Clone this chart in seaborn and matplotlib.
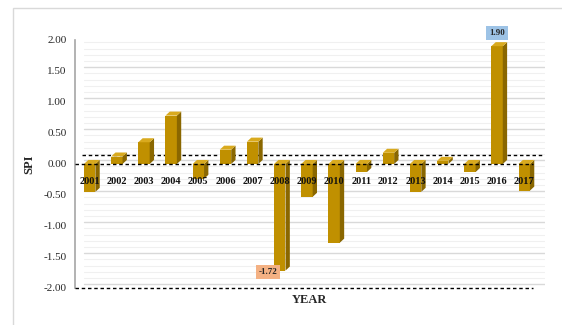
import matplotlib
matplotlib.use("Agg")
import matplotlib.pyplot as plt
import seaborn as sns
import pandas as pd
import numpy as np
from matplotlib.patches import Polygon, Rectangle

years = ["2001", "2002", "2003", "2004", "2005", "2006", "2007", "2008", "2009",
         "2010", "2011", "2012", "2013", "2014", "2015", "2016", "2017"]
spi = [-0.45, 0.12, 0.35, 0.78, -0.24, 0.23, 0.36, -1.72, -0.53,
       -1.27, -0.13, 0.18, -0.45, 0.05, -0.13, 1.90, -0.43]
yticks = [2.0, 1.5, 1.0, 0.5, 0.0, -0.5, -1.0, -1.5, -2.0]

df = pd.DataFrame({"YEAR": years, "SPI": spi})

sns.set_style("white")
plt.rcParams["font.family"] = ["Liberation Serif", "DejaVu Serif"]

fig = plt.figure(figsize=(5.62, 3.25), dpi=100)
ax = fig.add_axes([0.133, 0.114, 0.837, 0.763])

front = "#C09000"
side = "#8A6700"
topc = "#D9AA1E"

sns.barplot(data=df, x="YEAR", y="SPI", color=front, width=0.42,
            saturation=1, ax=ax, zorder=3, linewidth=0)

ax.set_xlim(-0.55, 16.77)
ax.set_ylim(-2.0, 2.0)

# gridlines
for v in np.arange(-2.0, 2.01, 0.1):
    major = abs(round(v * 2) - v * 2) < 1e-6
    ax.axhline(v + 0.06, color="#D9D9D9" if major else "#F0F0F0",
               lw=1.0 if major else 0.8, zorder=0, xmin=0.02, xmax=1.0)

dx, dy = 0.16, 0.065
for p in ax.patches:
    x0, y0 = p.get_x(), p.get_y()
    w, h = p.get_width(), p.get_height()
    yt = max(y0, y0 + h)
    yb = min(y0, y0 + h)
    x1 = x0 + w
    ax.add_patch(Polygon([[x1, yb], [x1 + dx, yb + dy], [x1 + dx, yt + dy], [x1, yt]],
                         closed=True, color=side, zorder=3, lw=0))
    ax.add_patch(Polygon([[x0, yt], [x0 + dx, yt + dy], [x1 + dx, yt + dy], [x1, yt]],
                         closed=True, color=topc, zorder=3, lw=0))

# dashed reference lines
ax.axhline(0.0, xmin=0.0, xmax=0.975, color="black", ls=(0, (2.5, 2)), lw=1.0, zorder=4)
ax.axhline(0.15, xmin=0.015, xmax=1.0, color="black", ls=(0, (2.5, 2)), lw=1.0, zorder=2)
ax.axhline(-2.0, xmin=0.0, xmax=0.975, color="black", ls=(0, (2.5, 2)), lw=1.0,
           zorder=4, clip_on=False)

# year labels inside the plot
for i, yr in enumerate(years):
    ax.text(i, -0.28, yr, ha="center", va="center", fontsize=7.5,
            fontweight="bold", zorder=5, color="#111111")

# data labels
i16 = years.index("2016")
ax.text(i16, spi[i16] + 0.21, f"{spi[i16]:.2f}", ha="center", va="center",
        fontsize=6.5, fontweight="bold", zorder=6,
        bbox=dict(boxstyle="square,pad=0.3", fc="#9DC3E6", ec="none"))
i08 = years.index("2008")
ax.text(i08 - 0.42, spi[i08] - 0.02, f"{spi[i08]:.2f}", ha="center", va="center",
        fontsize=6.5, fontweight="bold", zorder=6,
        bbox=dict(boxstyle="square,pad=0.3", fc="#F4B183", ec="none"))

ax.set_xticks([])
ax.set_yticks(yticks)
ax.set_yticklabels([f"{v:.2f}" for v in yticks], fontsize=8)
ax.tick_params(axis="y", length=0, pad=6)
ax.set_xlabel("YEAR", fontsize=9, fontweight="bold", labelpad=4)
ax.set_ylabel("SPI", fontsize=9, fontweight="bold", labelpad=6)

for s in ["top", "right", "bottom"]:
    ax.spines[s].set_visible(False)
ax.spines["left"].set_color("#A6A6A6")
ax.spines["left"].set_linewidth(1.2)

fig.patches.append(Rectangle((0.023, -0.1), 1.2, 1.075, transform=fig.transFigure,
                             fill=False, ec="#D9D9D9", lw=1.0, zorder=0))

fig.savefig("out.png", dpi=100)
